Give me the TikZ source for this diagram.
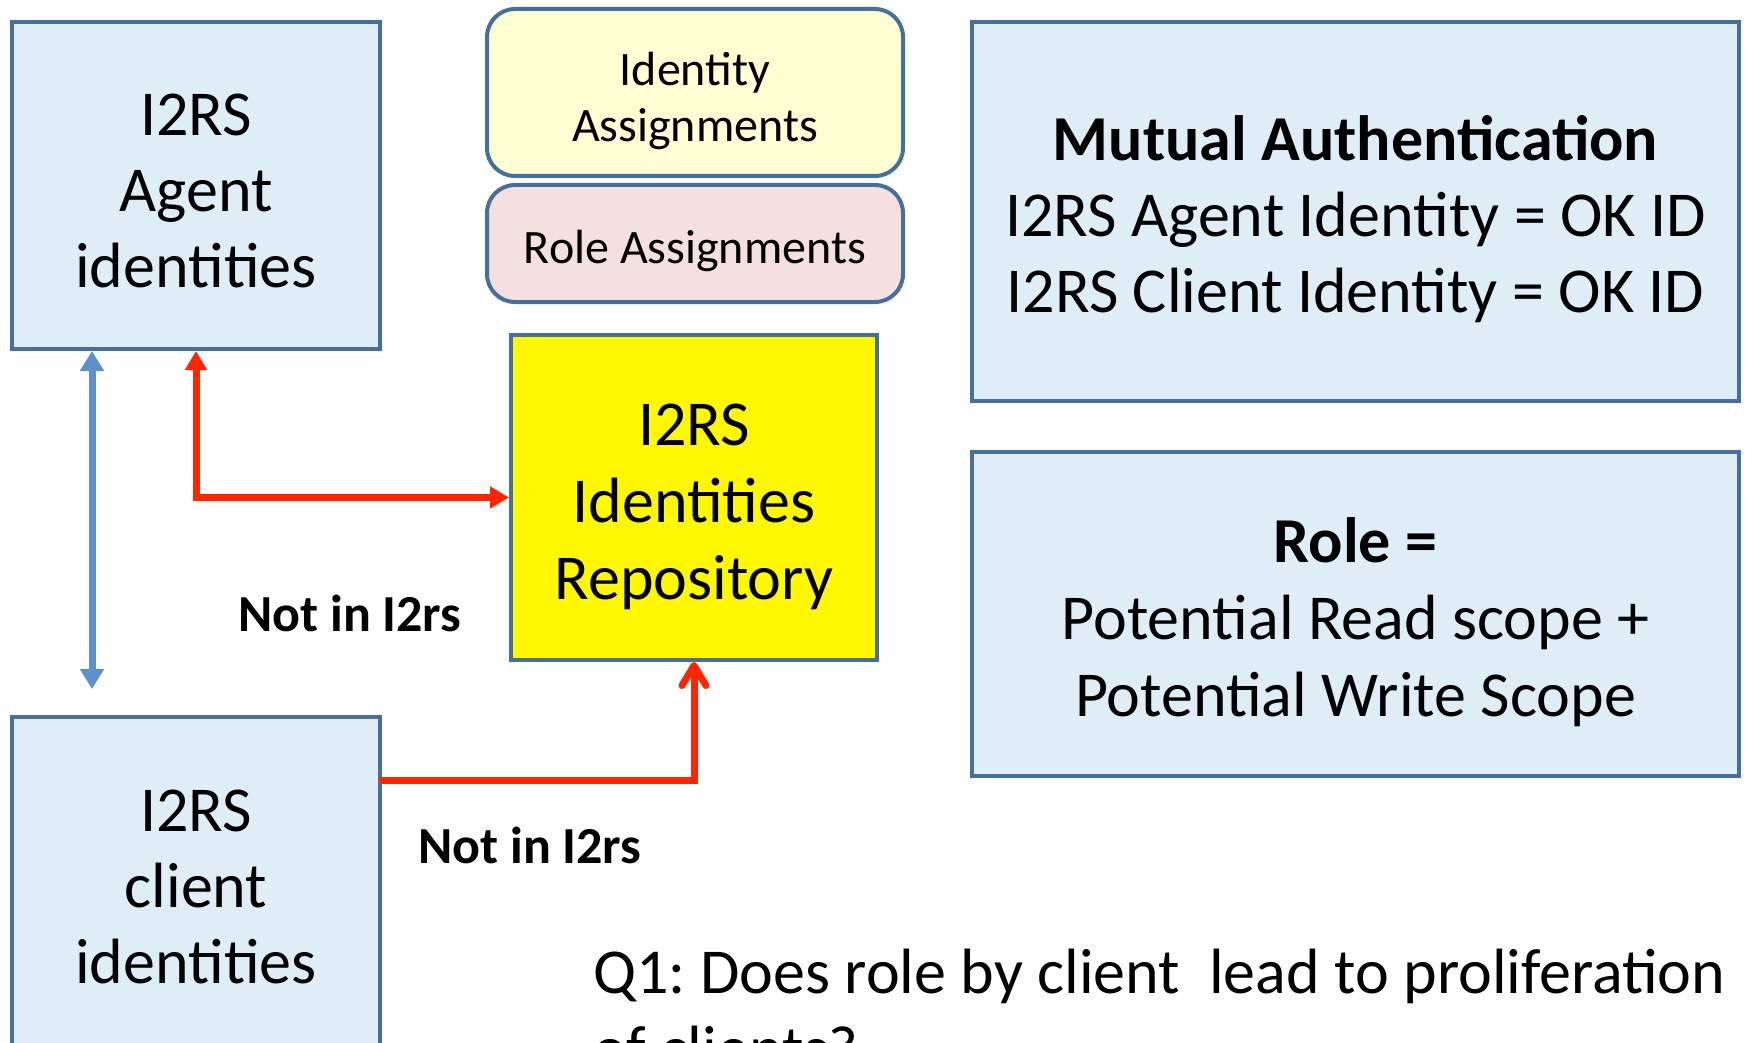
\documentclass[tikz,border=0pt]{standalone}
\usepackage{fontspec}
\setmainfont{Carlito}
\frenchspacing
\usetikzlibrary{arrows.meta}
\definecolor{boxfill}{RGB}{223,238,246}
\definecolor{bordc}{RGB}{71,111,156}
\definecolor{iafill}{RGB}{255,255,212}
\definecolor{rafill}{RGB}{243,224,223}
\definecolor{repofill}{RGB}{255,248,0}
\definecolor{redc}{RGB}{255,38,0}
\definecolor{bluec}{RGB}{93,145,201}
\tikzset{
  bluebox/.style={draw=bordc, fill=boxfill, line width=4pt, inner sep=0pt},
  roundbox/.style={draw=bordc, line width=4pt, rounded corners=28pt, inner sep=0pt},
  bigtext/.style={inner sep=0pt, align=center, font=\fontsize{64}{76}\selectfont},
  smalltext/.style={inner sep=0pt, align=center, font=\fontsize{48}{56}\selectfont},
  notlbl/.style={inner sep=0pt, anchor=base west, font=\fontsize{52}{62}\selectfont\bfseries},
  bluearrow/.style={draw=bluec, line width=7pt, {Triangle[width=23pt,length=20pt]}-{Triangle[width=23pt,length=20pt]}},
  redarrow/.style={draw=redc, line width=7pt},
}
\begin{document}
\begin{tikzpicture}[x=1pt,y=-1pt]
\useasboundingbox (0,0) rectangle (1747,1043);
\clip (0,0) rectangle (1747,1043);
\fill[white] (0,0) rectangle (1747,1043);

\node[bluebox, minimum width=368pt, minimum height=327pt] (agent) at (196,185.5) {};
\node[bigtext] (agentt) at ([yshift=-5pt]agent.center) {I2RS\\Agent\\identities};
\node[bluebox, minimum width=368pt, minimum height=332pt] (client) at (196,883) {};
\node[bigtext] (clientt) at ([yshift=-4pt]client.center) {I2RS\\client\\identities};
\node[roundbox, fill=iafill, minimum width=416pt, minimum height=167pt] (ia) at (695,92.5) {};
\node[smalltext] (iat) at ([yshift=-8pt]ia.center) {Identity\\Assignments};
\node[roundbox, fill=rafill, minimum width=416pt, minimum height=117pt] (ra) at (695,243.5) {};
\node[smalltext] (rat) at ([yshift=-7pt]ra.center) {Role Assignments};
\node[bluebox, fill=repofill, minimum width=366pt, minimum height=325pt] (repo) at (694,497.5) {};
\node[bigtext, font=\fontsize{64}{77}\selectfont] (repot) at ([yshift=-9pt]repo.center) {I2RS\\Identities\\Repository};
\node[bluebox, minimum width=767pt, minimum height=379pt] (mutual) at (1355.5,211.5) {};
\node[bigtext, font=\fontsize{64}{76}\selectfont] (mutualt) at ([yshift=-8pt]mutual.center)
  {\textbf{Mutual Authentication}\\I2RS Agent Identity = OK ID\\I2RS Client Identity = OK ID};
\node[bluebox, minimum width=767pt, minimum height=324pt] (role) at (1355.5,614) {};
\node[bigtext, font=\fontsize{64}{77}\selectfont] (rolet) at ([yshift=-8pt]role.center)
  {\textbf{Role =}\\Potential Read scope +\\Potential Write Scope};

\node[notlbl] (nl1) at (238,631) {Not in I2rs};
\node[notlbl] (nl2) at (418,863) {Not in I2rs};
\node[inner sep=0pt, anchor=base west, align=left, font=\fontsize{64}{77}\selectfont] (q1) at (593,1070)
  {Q1: Does role by client\ \ lead to proliferation\\of clients?};

\coordinate (bx) at (92,0);
\coordinate (bend) at (92,689);
\coordinate (rx) at (196,0);
\coordinate (ry) at (0,780);

\draw[bluearrow] (agent.south -| bx) -- (bend);
\draw[redarrow, {Triangle[width=21pt,length=19pt]}-{Triangle[width=21pt,length=19pt]}] (agent.south -| rx) |- (repo.west);
\draw[redarrow, -{Straight Barb[width=24pt,length=20pt,round]}, line cap=round] (client.east |- ry) -| (repo.south);
\end{tikzpicture}
\end{document}
